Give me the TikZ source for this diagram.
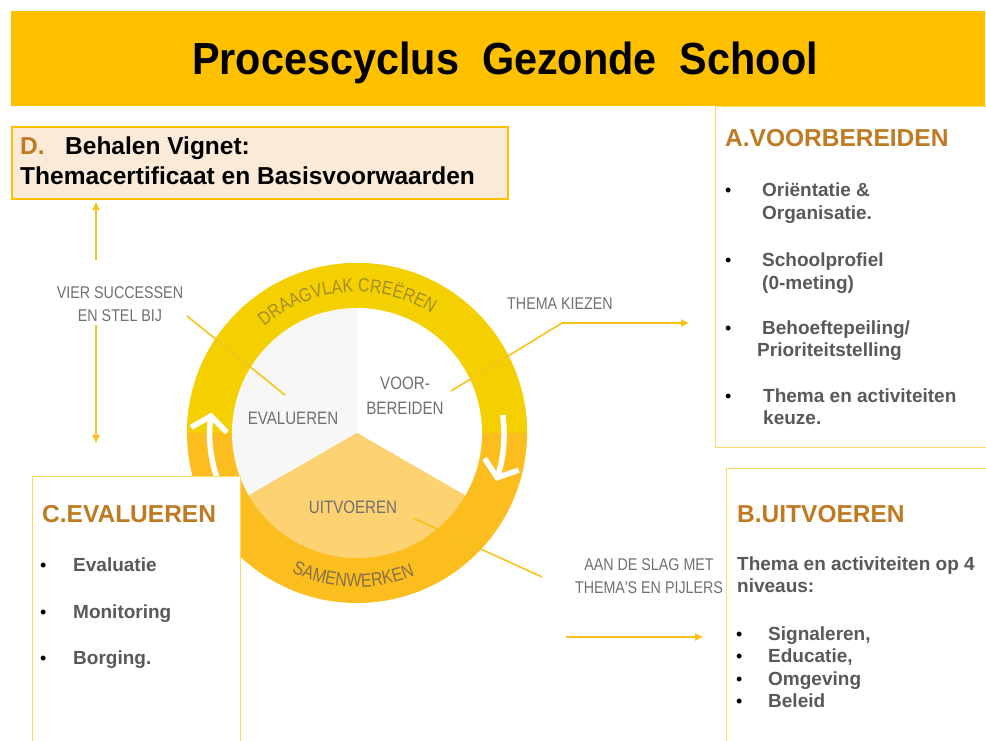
\documentclass[tikz,border=0pt]{standalone}
\usepackage{fontspec}
\setmainfont{Liberation Sans}
\newfontfamily\narrowfont{Liberation Sans}[FakeStretch=0.84]
\newfontfamily\titlefont{Liberation Sans}[FakeStretch=0.92]
\usetikzlibrary{positioning, calc, arrows.meta, decorations.text}

\definecolor{gold}{HTML}{FFC000}
\definecolor{ringtop}{HTML}{F4D000}
\definecolor{ringlow}{HTML}{FBBE1E}
\definecolor{evalfill}{HTML}{F7F7F7}
\definecolor{uitfill}{HTML}{FCD272}
\definecolor{vignetfill}{HTML}{FBEAD7}
\definecolor{panelline}{HTML}{FFD966}
\definecolor{headbrown}{HTML}{BF7A22}
\definecolor{itemgray}{HTML}{595959}
\definecolor{lblgray}{HTML}{707070}
\definecolor{linegold}{HTML}{F7C21A}
\definecolor{ringtxt}{HTML}{A38F2A}
\definecolor{ringtxtlow}{HTML}{86714A}

\begin{document}
\begin{tikzpicture}[x=1pt, y=1pt,
    panel/.style={draw=panelline, line width=1.2pt, fill=white, inner sep=0pt, anchor=north west},
    head/.style={anchor=base west, inner sep=0pt, text=headbrown, font=\fontsize{24.5}{28}\selectfont\bfseries},
    item/.style={anchor=base west, inner sep=0pt, text=itemgray, font=\fontsize{19}{23}\selectfont\bfseries},
    bul/.style={anchor=base west, inner sep=0pt, font=\fontsize{18}{20}\selectfont},
    lbl/.style={text=lblgray, align=center, inner sep=0pt, font=\narrowfont\fontsize{17}{23}\selectfont},
    phase/.style={text=lblgray, align=center, inner sep=0pt, font=\narrowfont\fontsize{18}{25}\selectfont},
    link/.style={draw=linegold, line width=1.6pt},
    arr/.style={link, line width=2.2pt, -{Triangle[length=8pt, width=7pt]}},
    turn/.style={draw=white, line width=5.5pt, -{Straight Barb[length=14pt, width=36pt]}}]

  \useasboundingbox (0,0) rectangle (986,740);

  % cycle
  \coordinate (c) at (357,307);
  \fill[ringlow] (c) circle[radius=170];
  \fill[ringtop] ($(c)+(170,0)$) arc[start angle=0, end angle=180, radius=170] -- cycle;
  \fill[white] (c) -- ($(c)+(-30:125)$) arc[start angle=-30, end angle=90, radius=125] -- cycle;
  \fill[evalfill] (c) -- ($(c)+(90:125)$) arc[start angle=90, end angle=210, radius=125] -- cycle;
  \fill[uitfill] (c) -- ($(c)+(210:125)$) arc[start angle=210, end angle=330, radius=125] -- cycle;

  \path[decorate, decoration={text along path, text align=center,
      text={|\narrowfont\fontsize{19}{19}\selectfont\color{ringtxt}|DRAAGVLAK CREËREN}}]
    ($(c)+(150:141)$) arc[start angle=150, end angle=39, radius=141];
  \path[decorate, decoration={text along path, text align=center,
      text={|\narrowfont\fontsize{19}{19}\selectfont\color{ringtxtlow}|SAMENWERKEN}}]
    ($(c)+(230:154)$) arc[start angle=230, end angle=307, radius=154];

  \draw[turn] ($(c)+(210:147)$) arc[start angle=210, end angle=172, radius=147];
  \draw[turn] ($(c)+(7:147)$) arc[start angle=7, end angle=-19, radius=147];

  \node[phase] (eval) at (293,322) {EVALUEREN};
  \node[phase] (voor) at (405,344.5) {VOOR-\\BEREIDEN};
  \node[phase] (uit) at (353,233) {UITVOEREN};

  % panels
  \node[panel, minimum width=280pt, minimum height=341pt] (voorbox) at (715,634) {};
  \node[panel, minimum width=270pt, minimum height=280pt] (uitbox) at (726,272) {};
  \node[panel, minimum width=208pt, minimum height=272pt] (evalbox) at (32,264) {};
  \node[panel, draw=gold, line width=2pt, fill=vignetfill, minimum width=496pt, minimum height=72pt] (vignet) at (11,614) {};

  % title bar
  \node[fill=gold, minimum width=974pt, minimum height=95pt, inner sep=0pt] (bar) at (498,681.5) {};
  \node[anchor=base, inner sep=0pt, font=\titlefont\fontsize{45}{50}\selectfont\bfseries] (title) at (505,665)
    {Procescyclus\ \ Gezonde\ \ School};

  % D
  \node[head] (dletter) at (20,585) {D.};
  \node[head, text=black] (dtitle) at (65,585) {Behalen Vignet:};
  \node[head, text=black] (dsub) at (20,555) {Themacertificaat en Basisvoorwaarden};

  % A
  \node[head] (ahead) at (725,593) {A.VOORBEREIDEN};
  \node[bul] (ab1) at (725,543) {•};
  \node[item] (a1) at (762,543) {Oriëntatie \&};
  \node[item] (a1b) at (762,520) {Organisatie.};
  \node[bul] (ab2) at (725,473) {•};
  \node[item] (a2) at (762,473) {Schoolprofiel};
  \node[item] (a2b) at (762,450) {(0-meting)};
  \node[bul] (ab3) at (725,405) {•};
  \node[item] (a3) at (762,405) {Behoeftepeiling/};
  \node[item] (a3b) at (757,383) {Prioriteitstelling};
  \node[bul] (ab4) at (725,337) {•};
  \node[item] (a4) at (763,337) {Thema en activiteiten};
  \node[item] (a4b) at (763,315) {keuze.};

  % B
  \node[head] (bhead) at (737,218) {B.UITVOEREN};
  \node[item] (bintro) at (737,170) {Thema en activiteiten op 4};
  \node[item] (bintrob) at (737,148) {niveaus:};
  \node[bul] (bb1) at (736,100) {•};
  \node[item] (b1) at (768,100) {Signaleren,};
  \node[bul] (bb2) at (736,78) {•};
  \node[item] (b2) at (768,78) {Educatie,};
  \node[bul] (bb3) at (736,55) {•};
  \node[item] (b3) at (768,55) {Omgeving};
  \node[bul] (bb4) at (736,33) {•};
  \node[item] (b4) at (768,33) {Beleid};

  % C
  \node[head] (chead) at (42,217) {C.EVALUEREN};
  \node[bul] (cb1) at (40,169) {•};
  \node[item] (c1) at (73,169) {Evaluatie};
  \node[bul] (cb2) at (40,122) {•};
  \node[item] (c2) at (73,122) {Monitoring};
  \node[bul] (cb3) at (40,76) {•};
  \node[item] (c3) at (73,76) {Borging.};

  % labels and connectors
  \node[lbl] (vier) at (120,436) {VIER SUCCESSEN\\EN STEL BIJ};
  \node[lbl] (kiezen) at (560,436) {THEMA KIEZEN};
  \node[lbl] (slag) at (649,164) {AAN DE SLAG MET\\THEMA'S EN PIJLERS};

  \coordinate (vierUp) at (96,480);
  \coordinate (vignetIn) at (96,538);
  \coordinate (vierDown) at (96,415);
  \coordinate (evalIn) at (96,297);
  \draw[arr] (vierUp) -- (vignetIn);
  \draw[arr] (vierDown) -- (evalIn);

  \coordinate (vierStart) at (187,424);
  \coordinate (evalEnd) at (285,345);
  \draw[link] (vierStart) -- (evalEnd);

  \coordinate (voorEnd) at (451,349);
  \coordinate (kiezenL) at (562,417);
  \coordinate (kiezenR) at (689,417);
  \draw[link] (voorEnd) -- (kiezenL);
  \draw[arr] (kiezenL) -- (kiezenR);

  \coordinate (uitEnd) at (413,222);
  \coordinate (slagEnd) at (542,163);
  \coordinate (slagL) at (566,103);
  \coordinate (slagR) at (703,103);
  \draw[link] (uitEnd) -- (slagEnd);
  \draw[arr] (slagL) -- (slagR);
\end{tikzpicture}
\end{document}
